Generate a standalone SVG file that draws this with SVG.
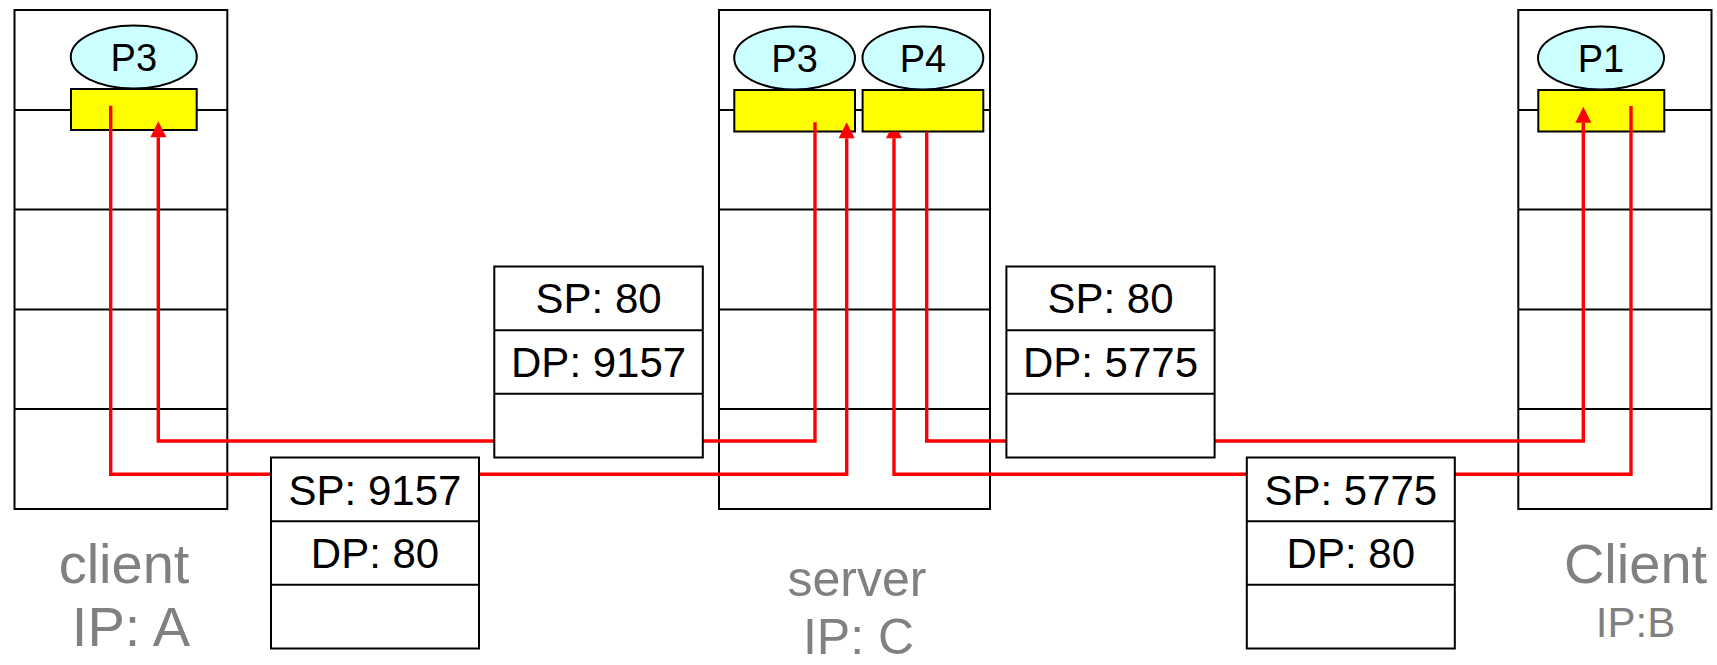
<svg xmlns="http://www.w3.org/2000/svg" width="1717" height="665" viewBox="0 0 1717 665">
<defs>
<style>
.host{fill:none;stroke:#000;stroke-width:2}
.sep{stroke:#000;stroke-width:2}
.proc{fill:#CCFFFF;stroke:#000;stroke-width:2}
.sock{fill:#FFFF00;stroke:#000;stroke-width:2}
.ptxt{font-family:"Liberation Sans",Arial,sans-serif;font-size:38px;fill:#000;text-anchor:middle}
.pkt{fill:#fff;stroke:#000;stroke-width:2}
.ktxt{font-family:"Liberation Sans",Arial,sans-serif;font-size:42px;fill:#000;text-anchor:middle}
.lbl{font-family:"Liberation Sans",Arial,sans-serif;font-size:56px;fill:#808080;text-anchor:middle}
.lblm{font-family:"Liberation Sans",Arial,sans-serif;font-size:50px;fill:#808080;text-anchor:middle}
.lbls{font-family:"Liberation Sans",Arial,sans-serif;font-size:42px;fill:#808080;text-anchor:middle}
.wire{fill:none;stroke:#FF0000;stroke-width:3.4;stroke-linejoin:miter}
</style>
<marker id="arr" markerUnits="userSpaceOnUse" markerWidth="16" markerHeight="16" refX="0" refY="8" orient="auto" overflow="visible">
<path d="M0,0 L16,8 L0,16 Z" fill="#FF0000"/>
</marker>
<marker id="arrcut" markerUnits="userSpaceOnUse" markerWidth="16" markerHeight="16" refX="0" refY="8" orient="auto" overflow="visible">
<path d="M0,0 L6.6,3.3 L6.6,12.7 L0,16 Z" fill="#FF0000"/>
</marker>
</defs>
<rect width="1717" height="665" fill="#fff"/>

<g id="host-client-a">
<rect class="host" x="14.5" y="10" width="212.8" height="499"/>
<line class="sep" x1="14.5" y1="110" x2="227.3" y2="110"/>
<line class="sep" x1="14.5" y1="209.5" x2="227.3" y2="209.5"/>
<line class="sep" x1="14.5" y1="309.5" x2="227.3" y2="309.5"/>
<line class="sep" x1="14.5" y1="409" x2="227.3" y2="409"/>
<ellipse class="proc" cx="133.8" cy="57" rx="63" ry="31.5"/>
<text class="ptxt" x="133.8" y="71">P3</text>
<rect class="sock" x="71" y="89" width="125.7" height="41"/>
<text class="lbl" x="124" y="583">client</text>
<text class="lbl" x="131" y="646">IP: A</text>
</g>

<g id="host-server">
<rect class="host" x="719" y="10" width="271" height="499"/>
<line class="sep" x1="719" y1="110" x2="990" y2="110"/>
<line class="sep" x1="719" y1="209.5" x2="990" y2="209.5"/>
<line class="sep" x1="719" y1="309.5" x2="990" y2="309.5"/>
<line class="sep" x1="719" y1="409" x2="990" y2="409"/>
<ellipse class="proc" cx="794.6" cy="58" rx="60.4" ry="31.5"/>
<text class="ptxt" x="794.6" y="72">P3</text>
<ellipse class="proc" cx="922.9" cy="58" rx="60.4" ry="31.5"/>
<text class="ptxt" x="922.9" y="72">P4</text>
<rect class="sock" x="734.3" y="90" width="120.7" height="41.5"/>
<rect class="sock" x="862.6" y="90" width="120.7" height="41.5"/>
<text class="lblm" x="857" y="596">server</text>
<text class="lblm" x="858.5" y="654">IP: C</text>
</g>

<g id="host-client-b">
<rect class="host" x="1518.3" y="10" width="193.2" height="499"/>
<line class="sep" x1="1518.3" y1="110" x2="1711.5" y2="110"/>
<line class="sep" x1="1518.3" y1="209.5" x2="1711.5" y2="209.5"/>
<line class="sep" x1="1518.3" y1="309.5" x2="1711.5" y2="309.5"/>
<line class="sep" x1="1518.3" y1="409" x2="1711.5" y2="409"/>
<ellipse class="proc" cx="1601" cy="58" rx="63" ry="31.5"/>
<text class="ptxt" x="1601" y="72">P1</text>
<rect class="sock" x="1538.3" y="90" width="126" height="41.5"/>
<text class="lbl" x="1635.5" y="583">Client</text>
<text class="lbls" x="1635.5" y="637">IP:B</text>
</g>

<g id="connectors">
<path class="wire" d="M110.7,105.7 V474.3 H846.7 V138.3" marker-end="url(#arr)"/>
<path class="wire" d="M815,122.3 V441 H158.3 V137.3" marker-end="url(#arr)"/>
<path class="wire" d="M926.7,131.7 V441 H1583.3 V122.7" marker-end="url(#arr)"/>
<path class="wire" d="M1631,106 V474.3 H894 V138.3" marker-end="url(#arrcut)"/>
</g>

<g id="segment-a-to-c">
<rect class="pkt" x="271" y="457.5" width="208" height="191"/>
<line class="sep" x1="271" y1="521.2" x2="479" y2="521.2"/>
<line class="sep" x1="271" y1="584.8" x2="479" y2="584.8"/>
<text class="ktxt" x="375" y="504.5">SP: 9157</text>
<text class="ktxt" x="375" y="568">DP: 80</text>
</g>

<g id="segment-c-to-a">
<rect class="pkt" x="494.3" y="266.5" width="208.5" height="191"/>
<line class="sep" x1="494.3" y1="330.2" x2="702.8" y2="330.2"/>
<line class="sep" x1="494.3" y1="393.8" x2="702.8" y2="393.8"/>
<text class="ktxt" x="598.6" y="313.3">SP: 80</text>
<text class="ktxt" x="598.6" y="377">DP: 9157</text>
</g>

<g id="segment-c-to-b">
<rect class="pkt" x="1006.4" y="266.5" width="208.2" height="191"/>
<line class="sep" x1="1006.4" y1="330.2" x2="1214.6" y2="330.2"/>
<line class="sep" x1="1006.4" y1="393.8" x2="1214.6" y2="393.8"/>
<text class="ktxt" x="1110.5" y="313.3">SP: 80</text>
<text class="ktxt" x="1110.5" y="377">DP: 5775</text>
</g>

<g id="segment-b-to-c">
<rect class="pkt" x="1246.8" y="457.5" width="208" height="191"/>
<line class="sep" x1="1246.8" y1="521.2" x2="1454.8" y2="521.2"/>
<line class="sep" x1="1246.8" y1="584.8" x2="1454.8" y2="584.8"/>
<text class="ktxt" x="1350.8" y="504.5">SP: 5775</text>
<text class="ktxt" x="1350.8" y="568">DP: 80</text>
</g>
</svg>
